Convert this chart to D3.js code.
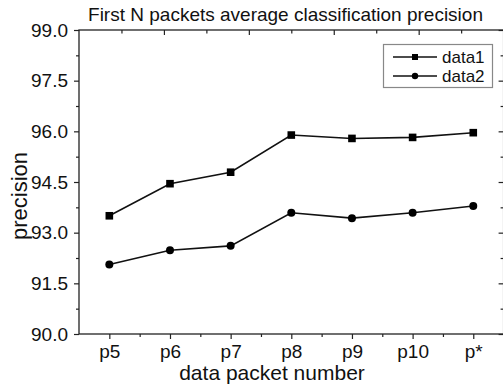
<!DOCTYPE html>
<html><head><meta charset="utf-8">
<script src="https://cdn.jsdelivr.net/npm/d3@7"></script>
<style>body{margin:0;background:#fff}svg{display:block}text{font-family:"Liberation Sans",Arial,sans-serif;fill:#111}</style>
</head><body>
<svg id="c" width="503" height="385"></svg>
<script>
const categories = ["p5","p6","p7","p8","p9","p10","p*"];
const data1 = [93.50, 94.45, 94.79, 95.89, 95.79, 95.82, 95.96];
const data2 = [92.06, 92.48, 92.61, 93.59, 93.43, 93.59, 93.79];
const yTicks = [90.0, 91.5, 93.0, 94.5, 96.0, 97.5, 99.0];
const seriesNames = ["data1","data2"];

const svg = d3.select("#c");
const L = 79, R = 503.6, T = 30, B = 334;
const x = d3.scalePoint().domain(categories).range([L, R]).padding(0.5);
const y = d3.scaleLinear().domain([90, 99]).range([B, T]);
const ink = "#222";

// frame
svg.append("rect").attr("x", L).attr("y", T).attr("width", R - L).attr("height", B - T)
  .attr("fill", "none").attr("stroke", ink).attr("stroke-width", 1.3);

// left axis
const yMinor = d3.range(0, yTicks.length - 1).map(i => (yTicks[i] + yTicks[i + 1]) / 2);
const gl = svg.append("g").attr("transform", `translate(${L},0)`)
  .call(d3.axisLeft(y).tickValues(yTicks).tickFormat(d3.format(".1f")).tickSize(5).tickPadding(6));
gl.append("g").call(d3.axisLeft(y).tickValues(yMinor).tickFormat("").tickSize(3));
// right axis (inward)
const gr = svg.append("g").attr("transform", `translate(${R},0)`)
  .call(d3.axisLeft(y).tickValues(yTicks).tickFormat("").tickSize(5));
gr.append("g").call(d3.axisLeft(y).tickValues(yMinor).tickFormat("").tickSize(3));
// bottom axis
const step = x.step();
const xMinor = categories.map(c => x(c) + step / 2).slice(0, -1);
const gb = svg.append("g").attr("transform", `translate(0,${B})`)
  .call(d3.axisBottom(x).tickSize(5).tickPadding(6));
gb.append("g").call(d3.axisBottom(d3.scaleIdentity()).tickValues(xMinor).tickFormat("").tickSize(3));
// top axis ticks (inward)
const xt = d3.scaleLinear().domain([0, 10]).range([L, R]);
const gt = svg.append("g").attr("transform", `translate(0,${T})`)
  .call(d3.axisBottom(xt).tickValues(d3.range(1, 10)).tickFormat("").tickSize(4));
gt.selectAll(".tick line").attr("y2", d => d % 2 === 0 ? 5 : 3.5);

svg.selectAll(".domain").remove();
svg.selectAll(".tick line").attr("stroke", ink).attr("stroke-width", 1.2);
svg.selectAll(".tick text").attr("font-size", 19).attr("fill", "#111")
  .style("font-family", '"Liberation Sans",Arial,sans-serif');

// lines
const line = d3.line().x((d, i) => x(categories[i])).y(d => y(d));
[data1, data2].forEach(s => {
  svg.append("path").datum(s).attr("d", line).attr("fill", "none")
    .attr("stroke", "#111").attr("stroke-width", 1.6);
});
svg.append("g").selectAll("rect").data(data1).join("rect")
  .attr("x", (d, i) => x(categories[i]) - 3.8).attr("y", d => y(d) - 3.8)
  .attr("width", 7.6).attr("height", 7.6).attr("fill", "#000");
svg.append("g").selectAll("circle").data(data2).join("circle")
  .attr("cx", (d, i) => x(categories[i])).attr("cy", d => y(d)).attr("r", 4).attr("fill", "#000");

// title and axis titles
svg.append("text").attr("x", 285.5).attr("y", 21).attr("text-anchor", "middle")
  .attr("font-size", 19).text("First N packets average classification precision");
svg.append("text").attr("x", 272).attr("y", 380).attr("text-anchor", "middle")
  .attr("font-size", 21).text("data packet number");
svg.append("text").attr("transform", "translate(27,196) rotate(-90)").attr("text-anchor", "middle")
  .attr("font-size", 22).text("precision");

// legend
const lg = svg.append("g");
lg.append("rect").attr("x", 383.5).attr("y", 44.5).attr("width", 109).attr("height", 43)
  .attr("fill", "#fff").attr("stroke", "#888").attr("stroke-width", 1.2);
seriesNames.forEach((n, i) => {
  const yy = 57 + i * 19;
  lg.append("line").attr("x1", 393).attr("x2", 437).attr("y1", yy).attr("y2", yy)
    .attr("stroke", "#111").attr("stroke-width", 1.5);
  if (i === 0) lg.append("rect").attr("x", 412).attr("y", yy - 3).attr("width", 6).attr("height", 6).attr("fill", "#000");
  else lg.append("circle").attr("cx", 415).attr("cy", yy).attr("r", 3.2).attr("fill", "#000");
  lg.append("text").attr("x", 442).attr("y", yy + 6).attr("font-size", 17).text(n);
});
</script>
</body></html>
